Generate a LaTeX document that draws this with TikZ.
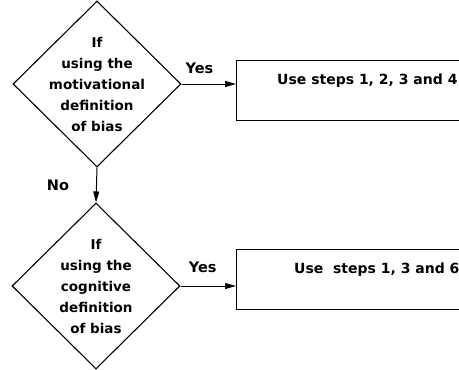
\documentclass[tikz,border=0pt]{standalone}
\usepackage{fontspec}
\setmainfont{DejaVu Sans}
\usetikzlibrary{shapes.geometric,arrows.meta}

\begin{document}
\begin{tikzpicture}[x=1pt,y=-1pt,
	decision/.style={draw,line width=1.1pt,diamond,aspect=1,inner sep=-30pt,minimum width=168pt,minimum height=166pt,align=center,font=\bfseries\fontsize{13.5}{21}\selectfont},
	stepbox/.style={draw,line width=1.1pt,rectangle,anchor=north west,minimum width=300pt,minimum height=60pt},
	link/.style={line width=1pt,-{Triangle[length=11pt,width=6pt]}},
	txt/.style={font=\bfseries\fontsize{14.5}{16}\selectfont,inner sep=0pt},
	steptxt/.style={anchor=base west,inner sep=0pt,font=\bfseries\fontsize{14}{16}\selectfont}]
	% 画布大小
	\useasboundingbox (0,0) rectangle (459,370);
	\clip (0,0) rectangle (459,370);
	
	% 两个判断菱形
	\node[decision] (motiv) at (97,84) {If\\using the\\motivational\\definition\\of bias};
	\node[decision] (cogn) at (96,286) {If\\using the\\cognitive\\definition\\of bias};
	
	% 右侧的步骤框(右边超出画面)
	\node[stepbox] (steps1) at (236,60) {};
	\node[stepbox] (steps2) at (236,249) {};
	
	% 步骤框里的文字
	\node[steptxt] (use1) at ([xshift=41pt,yshift=-24pt]steps1.north west) {Use steps 1, 2, 3 and 4};
	\node[steptxt] (use2) at ([xshift=58pt,yshift=-24pt]steps2.north west) {Use\ \ steps 1, 3 and 6};
	
	% 箭头
	\draw[link] (motiv.east) -- (motiv.east -| steps1.west) node[pos=0.33,above=11pt,anchor=base,txt] (yes1) {Yes};
	\draw[link] (cogn.east) -- (cogn.east -| steps2.west) node[pos=0.4,above=14pt,anchor=base,txt] (yes2) {Yes};
	\draw[link] (motiv.south) -- (cogn.north) node[midway,left=27pt,txt] (no1) {No};
	
\end{tikzpicture}
\end{document}
